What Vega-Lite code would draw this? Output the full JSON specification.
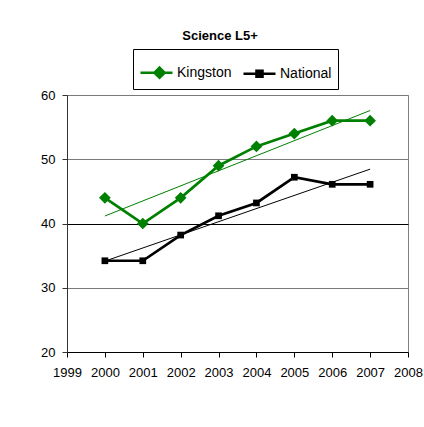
{
  "$schema": "https://vega.github.io/schema/vega-lite/v6.json",
  "width": 341,
  "height": 257,
  "autosize": {"type": "none"},
  "padding": {"left": 67, "top": 95, "right": 16, "bottom": 75},
  "background": "white",
  "title": {
    "text": "Science L5+",
    "font": "Liberation Sans",
    "fontSize": 13,
    "fontWeight": "bold",
    "color": "black",
    "anchor": "middle",
    "dx": -17.5,
    "offset": 6
  },
  "config": {
    "view": {"stroke": "#808080", "strokeWidth": 1},
    "axis": {
      "labelFont": "Liberation Sans",
      "labelFontSize": 13,
      "labelColor": "black",
      "tickSize": 5,
      "title": null,
      "labelFlush": false,
      "labelOverlap": false
    }
  },
  "data": {
    "values": [
      {"year": 2000, "series": "Kingston", "value": 44},
      {"year": 2001, "series": "Kingston", "value": 40},
      {"year": 2002, "series": "Kingston", "value": 44},
      {"year": 2003, "series": "Kingston", "value": 49},
      {"year": 2004, "series": "Kingston", "value": 52},
      {"year": 2005, "series": "Kingston", "value": 54},
      {"year": 2006, "series": "Kingston", "value": 56},
      {"year": 2007, "series": "Kingston", "value": 56},
      {"year": 2000, "series": "National", "value": 34.2},
      {"year": 2001, "series": "National", "value": 34.2},
      {"year": 2002, "series": "National", "value": 38.2},
      {"year": 2003, "series": "National", "value": 41.2},
      {"year": 2004, "series": "National", "value": 43.2},
      {"year": 2005, "series": "National", "value": 47.2},
      {"year": 2006, "series": "National", "value": 46.1},
      {"year": 2007, "series": "National", "value": 46.1}
    ]
  },
  "encoding": {
    "x": {
      "field": "year",
      "type": "quantitative",
      "scale": {"domain": [1999, 2008], "nice": false, "zero": false},
      "axis": {
        "values": [1999, 2000, 2001, 2002, 2003, 2004, 2005, 2006, 2007, 2008],
        "format": "d",
        "grid": false,
        "domainColor": "black",
        "tickColor": "black",
        "labelPadding": 9
      }
    },
    "y": {
      "field": "value",
      "type": "quantitative",
      "scale": {"domain": [20, 60], "nice": false, "zero": false},
      "axis": {
        "values": [20, 30, 40, 50, 60],
        "grid": true,
        "gridColor": {"condition": {"test": "datum.value === 40", "value": "black"}, "value": "#7a7a7a"},
        "gridOpacity": 1,
        "domainColor": "#333333",
        "tickColor": "#333333",
        "labelPadding": 7
      }
    },
    "color": {
      "field": "series",
      "type": "nominal",
      "scale": {"domain": ["Kingston", "National"], "range": ["#008000", "#000000"]},
      "legend": {
        "orient": "none",
        "legendX": 66,
        "legendY": -46,
        "direction": "horizontal",
        "title": null,
        "padding": 6,
        "strokeColor": "black",
        "fillColor": "white",
        "labelFont": "Liberation Sans",
        "labelFontSize": 14,
        "labelColor": "black",
        "labelOffset": 3,
        "columnPadding": 6,
        "symbolSize": 1024,
        "symbolStrokeWidth": 2.5,
        "encode": {
          "symbols": {
            "update": {
              "shape": {"signal": "datum.value === 'Kingston' ? 'M-1,0H1M0.19,-0.32L0.51,0L0.19,0.32L-0.13,0Z' : 'M-1,0H1M-0.19,-0.19H0.19V0.19H-0.19Z'"},
              "fill": {"signal": "datum.value === 'Kingston' ? '#008000' : '#000000'"},
              "stroke": {"signal": "datum.value === 'Kingston' ? '#008000' : '#000000'"},
              "strokeWidth": {"value": 2.5},
              "size": {"value": 1024}
            }
          }
        }
      }
    }
  },
  "layer": [
    {
      "transform": [{"regression": "value", "on": "year", "groupby": ["series"]}],
      "mark": {"type": "line", "strokeWidth": 1}
    },
    {
      "mark": {"type": "line", "strokeWidth": 2.7}
    },
    {
      "transform": [{"filter": "datum.series === 'Kingston'"}],
      "mark": {"type": "point", "shape": "diamond", "filled": true, "opacity": 1, "size": 137}
    },
    {
      "transform": [{"filter": "datum.series === 'National'"}],
      "mark": {"type": "point", "shape": "square", "filled": true, "opacity": 1, "size": 45}
    }
  ]
}
